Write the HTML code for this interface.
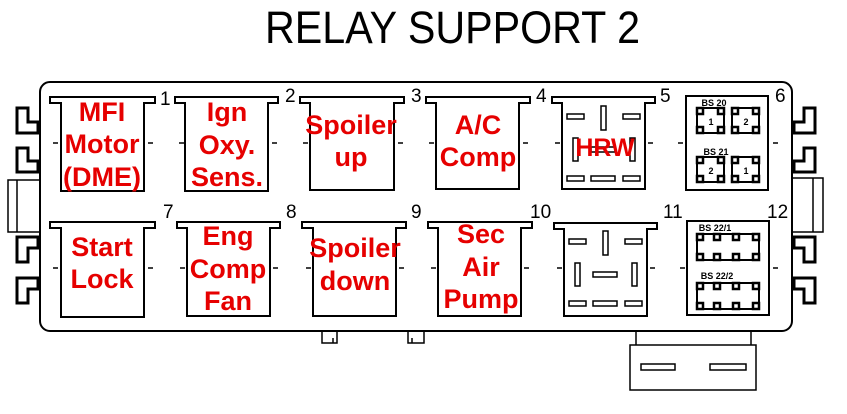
<!DOCTYPE html>
<html><head><meta charset="utf-8"><style>
html,body{margin:0;padding:0;background:#fff;}
svg{display:block}
.r{font-family:"Liberation Sans",sans-serif;font-weight:bold;fill:#e60000;font-size:27px;text-anchor:middle}
.n{font-family:"Liberation Sans",sans-serif;font-size:19px;fill:#000}
.s{font-family:"Liberation Sans",sans-serif;font-size:9px;font-weight:bold;fill:#000;text-anchor:middle}
</style></head><body>
<svg width="847" height="414" viewBox="0 0 847 414" xmlns="http://www.w3.org/2000/svg">
<text x="265" y="43" font-family="Liberation Sans,sans-serif" font-size="45" textLength="375" lengthAdjust="spacingAndGlyphs" fill="#000">RELAY SUPPORT 2</text>
<g fill="none" stroke="#000" stroke-width="2">
<rect x="40" y="82" width="752" height="249" rx="10"/>
<g stroke-width="3">
<path d="M17 108 H28 V122 H38 V133 H17 Z"/>
<path d="M17 148 H28 V161 H38 V172 H17 Z"/>
<path d="M17 262 H28 V248 H38 V237 H17 Z"/>
<path d="M17 303 H28 V289 H38 V278 H17 Z"/>
<path d="M815 108 H804 V122 H794 V133 H815 Z"/>
<path d="M815 148 H804 V161 H794 V172 H815 Z"/>
<path d="M815 262 H804 V248 H794 V237 H815 Z"/>
<path d="M815 303 H804 V289 H794 V278 H815 Z"/>
</g>
<rect x="8" y="180" width="32" height="52" stroke-width="1.5"/><line x1="17" y1="180" x2="17" y2="232" stroke-width="1.5"/>
<rect x="792" y="178" width="31" height="54" stroke-width="1.5"/><line x1="813" y1="178" x2="813" y2="232" stroke-width="1.5"/>
<path d="M322 331 V343 H337 V331 M333 343 V338" stroke-width="1.5"/>
<path d="M408 331 V343 H424 V331 M412 343 V338" stroke-width="1.5"/>
<path d="M636 331 V345 M751 331 V345" stroke-width="1.5"/>
<rect x="630" y="345" width="126" height="45" stroke-width="1.5"/>
<rect x="641" y="364" width="34" height="6" stroke-width="1.5"/>
<rect x="710" y="364" width="36" height="6" stroke-width="1.5"/>
</g>
<g fill="none" stroke="#000" stroke-width="2">
<path d="M61 191 V103 H50 V97 H155 V103 H144 V191 Z"/>
<path d="M185 191 V103 H175 V97 H278 V103 H268 V191 Z"/>
<path d="M310 190 V103 H300 V97 H404 V103 H394 V190 Z"/>
<path d="M436 189 V103 H426 V97 H530 V103 H519 V189 Z"/>
<path d="M562 189 V103 H552 V97 H655 V103 H645 V189 Z"/>
<rect x="686" y="96" width="82" height="94"/>
<path d="M61 317 V228 H50 V222 H155 V228 H144 V317 Z"/>
<path d="M187 316 V228 H177 V222 H280 V228 H270 V316 Z"/>
<path d="M313 316 V228 H302 V222 H406 V228 H396 V316 Z"/>
<path d="M438 316 V228 H428 V222 H532 V228 H521 V316 Z"/>
<path d="M564 316 V229 H554 V223 H657 V229 H647 V316 Z"/>
<rect x="687" y="221" width="82" height="94"/>
</g>
<g stroke="#000" stroke-width="1.5">
<path d="M53 143h5M148 143h5M179 143h5M272 143h5M303 143h5M398 143h5M429 143h5M523 143h5M555 143h5M648 143h5M678 143h5M773 143h5"/>
<path d="M53 268h5M148 268h5M180 268h5M273 268h5M306 268h5M399 268h5M431 268h5M524 268h5M557 268h5M650 268h5M680 268h5M773 268h5"/>
</g>
<g fill="none" stroke="#000" stroke-width="1.5">
<g id="s5">
<rect x="567" y="114" width="17" height="5"/><rect x="601" y="106" width="5" height="24"/><rect x="623" y="114" width="17" height="5"/>
<rect x="573" y="138" width="5" height="23"/><rect x="591" y="147" width="24" height="5"/><rect x="630" y="138" width="5" height="23"/>
<rect x="567" y="176" width="17" height="5"/><rect x="591" y="176" width="24" height="5"/><rect x="623" y="176" width="17" height="5"/>
</g>
<use href="#s5" transform="translate(2,125)"/>
</g>
<g fill="none" stroke="#000" stroke-width="2.5">
<g id="c1">
<rect x="697" y="108" width="27" height="25" stroke-width="2"/>
<rect x="697" y="108" width="6" height="6"/><rect x="718" y="108" width="6" height="6"/>
<rect x="697" y="127" width="6" height="6"/><rect x="718" y="127" width="6" height="6"/>
</g>
<use href="#c1" transform="translate(35,0)"/>
<use href="#c1" transform="translate(0,49)"/>
<use href="#c1" transform="translate(35,49)"/>
<g id="c2">
<rect x="697" y="234" width="62" height="26" stroke-width="2"/>
<rect x="697" y="234" width="6" height="6"/><rect x="714" y="234" width="6" height="6"/><rect x="733" y="234" width="6" height="6"/><rect x="753" y="234" width="6" height="6"/>
<rect x="697" y="254" width="6" height="6"/><rect x="714" y="254" width="6" height="6"/><rect x="733" y="254" width="6" height="6"/><rect x="753" y="254" width="6" height="6"/>
</g>
<use href="#c2" transform="translate(0,49)"/>
</g>
<g class="s">
<text x="714" y="106">BS 20</text><text x="716" y="155">BS 21</text>
<text x="715" y="231">BS 22/1</text><text x="717" y="279">BS 22/2</text>
<text x="711" y="125">1</text><text x="746" y="125">2</text>
<text x="711" y="174">2</text><text x="746" y="174">1</text>
</g>
<g class="n">
<text x="160" y="105">1</text><text x="285" y="102">2</text><text x="411" y="102">3</text><text x="536" y="102">4</text><text x="660" y="102">5</text><text x="775" y="102">6</text>
<text x="163" y="218">7</text><text x="286" y="218">8</text><text x="411" y="218">9</text><text x="530" y="218">10</text><text x="663" y="218">11</text><text x="767" y="218">12</text>
</g>
<g class="r">
<text x="102" y="121">MFI</text><text x="102" y="153">Motor</text><text x="102" y="186">(DME)</text>
<text x="227" y="121">Ign</text><text x="227" y="154">Oxy.</text><text x="227" y="186">Sens.</text>
<text x="351" y="134">Spoiler</text><text x="351" y="166">up</text>
<text x="478" y="134">A/C</text><text x="478" y="166">Comp</text>
<text x="605" y="156" style="font-size:25px">HRW</text>
<text x="102" y="256">Start</text><text x="102" y="288">Lock</text>
<text x="228" y="245">Eng</text><text x="228" y="278">Comp</text><text x="228" y="310">Fan</text>
<text x="355" y="257">Spoiler</text><text x="355" y="290">down</text>
<text x="481" y="243">Sec</text><text x="481" y="276">Air</text><text x="481" y="308">Pump</text>
</g>
</svg>
</body></html>
